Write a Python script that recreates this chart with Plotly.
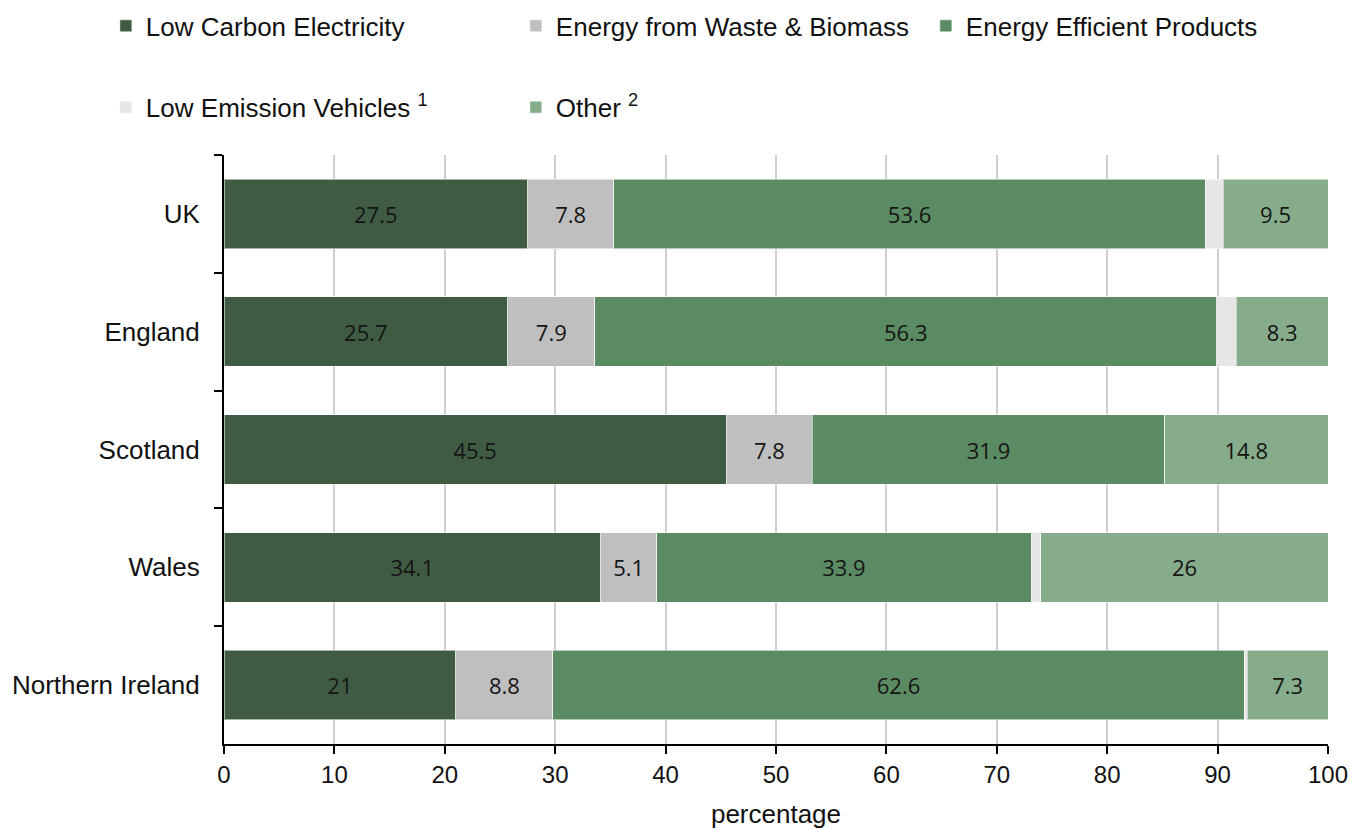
import plotly.graph_objects as go

regions = ["UK", "England", "Scotland", "Wales", "Northern Ireland"]

low_carbon = [27.5, 25.7, 45.5, 34.1, 21.0]
waste_biomass = [7.8, 7.9, 7.8, 5.1, 8.8]
efficient_products = [53.6, 56.3, 31.9, 33.9, 62.6]
low_emission_vehicles = [1.6, 1.8, 0.0, 0.9, 0.3]
other = [9.5, 8.3, 14.8, 26.0, 7.3]

x_ticks = list(range(0, 101, 10))

series = [
    ("Low Carbon Electricity", low_carbon, "#3f5c43", True, "legend"),
    ("Energy from Waste & Biomass", waste_biomass, "#bfbfbf", True, "legend"),
    ("Energy Efficient Products", efficient_products, "#5b8b63", True, "legend"),
    ("Low Emission Vehicles <sup>1</sup>", low_emission_vehicles, "#e6e6e6", False, "legend2"),
    ("Other <sup>2</sup>", other, "#86ac8b", True, "legend2"),
]

fig = go.Figure()
for name, vals, color, labelled, leg in series:
    fig.add_trace(go.Bar(
        y=regions,
        x=vals,
        name=name,
        orientation="h",
        marker=dict(color=color, line=dict(color="rgba(255,255,255,0.55)", width=1)),
        text=[f"{v:g}" for v in vals] if labelled else None,
        textposition="inside" if labelled else "none",
        insidetextanchor="middle",
        textangle=0,
        constraintext="none",
        textfont=dict(family="Open Sans", size=22, color="#151515"),
        legend=leg,
        hoverinfo="x+y+name",
    ))

legend_common = dict(
    orientation="h",
    xanchor="left",
    yanchor="top",
    x=-0.107,
    font=dict(family="Liberation Sans", size=26, color="#111111"),
    entrywidth=365,
    entrywidthmode="pixels",
    traceorder="normal",
    bgcolor="rgba(0,0,0,0)",
    itemclick=False,
    itemdoubleclick=False,
)

fig.update_layout(
    width=1363,
    height=829,
    margin=dict(l=224, r=35, t=155, b=85, autoexpand=False),
    barmode="stack",
    bargap=0.41,
    plot_bgcolor="white",
    paper_bgcolor="white",
    font=dict(family="Liberation Sans", size=24, color="#111111"),
    legend=dict(y=1.259, **legend_common),
    legend2=dict(y=1.121, **legend_common),
    xaxis=dict(
        range=[0, 100],
        tickvals=x_ticks,
        ticktext=[str(t) for t in x_ticks],
        showgrid=True,
        gridcolor="#cfcfcf",
        gridwidth=2,
        zeroline=False,
        showline=True,
        linecolor="#000000",
        linewidth=2,
        ticks="outside",
        ticklen=8,
        tickwidth=2,
        tickcolor="#000000",
        automargin=False,
        tickfont=dict(family="Liberation Sans", size=24, color="#111111"),
        title=dict(text="percentage", font=dict(family="Liberation Sans", size=26, color="#111111"), standoff=20),
    ),
    yaxis=dict(
        categoryorder="array",
        categoryarray=regions,
        autorange="reversed",
        tickson="boundaries",
        ticks="outside",
        ticklen=8,
        tickwidth=2,
        tickcolor="#000000",
        showline=True,
        linecolor="#000000",
        linewidth=2,
        showgrid=False,
        automargin=False,
        ticklabelstandoff=17,
        tickfont=dict(family="Liberation Sans", size=26, color="#111111"),
    ),
)

fig.write_html("out.html")
